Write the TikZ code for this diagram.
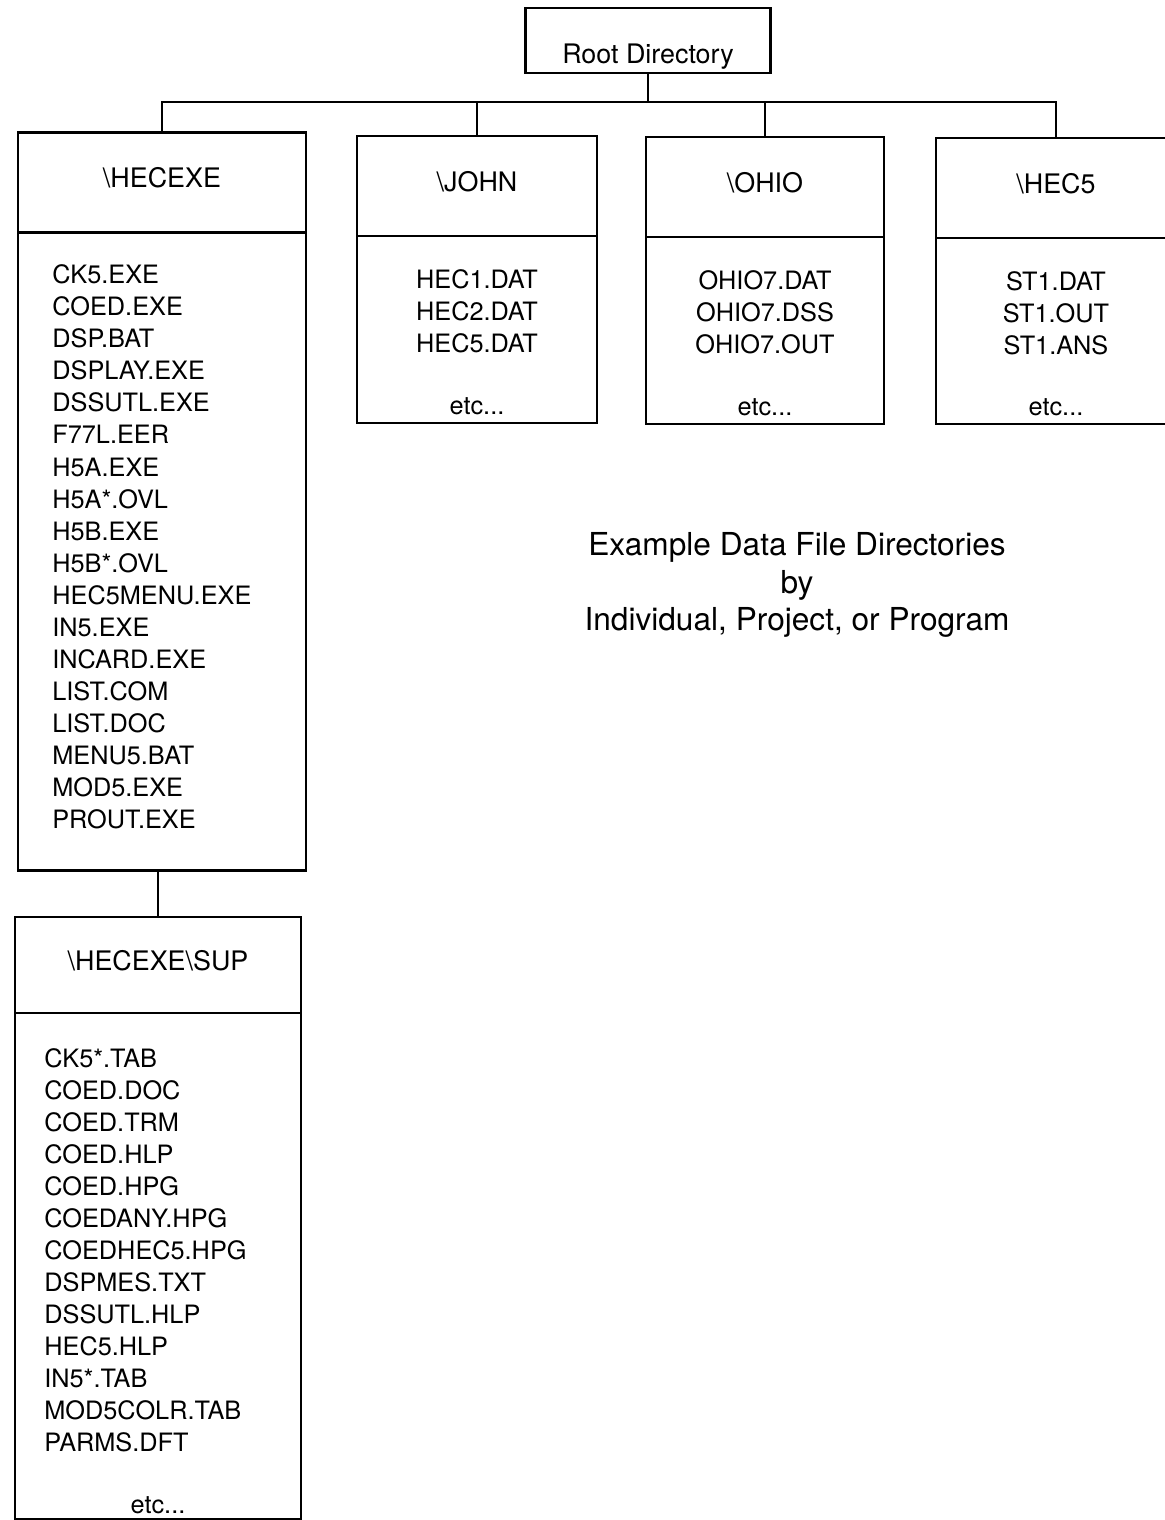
\documentclass[tikz,border=0pt]{standalone}
\usepackage{fontspec}
\setmainfont{TeX Gyre Heros}
\usepackage{tikz}
\usetikzlibrary{positioning,calc}
\tikzset{
    dirhead/.style={draw, line width=1.3pt, outer sep=0pt,
                    minimum width=#1, minimum height=2cm,
                    text height=0.39cm, text depth=0.18cm,
                    font=\fontsize{15.3}{18}\selectfont},
    dirlist/.style 2 args={draw, line width=1.3pt, outer sep=0pt,
                    minimum width=#1, minimum height=#2},
    files/.style={inner sep=0pt, align=#1,
                  font=\fontsize{14.4}{18.24}\selectfont},
    link/.style={line width=1.3pt},
}
\begin{document}
\begin{tikzpicture}[x=0.02cm, y=-0.02cm]
    \clip (0,0) rectangle (1165,1520);
    \node[dirhead=4.9cm, minimum height=1.3cm] (root) at (648,40.5) {};
    \node[anchor=base, font=\fontsize{15.3}{18}\selectfont] (rootname) at (648,63.5) {Root Directory};

    \node[dirhead=5.76cm] (hecexe) at (162,182.5) {\textbackslash HECEXE};
    \node[dirhead=4.8cm] (john) at (477,186) {\textbackslash JOHN};
    \node[dirhead=4.76cm] (ohio) at (765,187) {\textbackslash OHIO};
    \node[dirhead=4.8cm] (hec5) at (1056,188) {\textbackslash HEC5};

    \node[dirlist={5.76cm}{12.76cm}, below=0pt of hecexe] (hecexeList) {};
    \node[dirlist={4.8cm}{3.74cm}, below=0pt of john] (johnList) {};
    \node[dirlist={4.76cm}{3.74cm}, below=0pt of ohio] (ohioList) {};
    \node[dirlist={4.8cm}{3.72cm}, below=0pt of hec5] (hec5List) {};

    \node[dirhead=5.72cm, minimum height=1.92cm] (sup) at (158,965) {\textbackslash HECEXE\textbackslash SUP};
    \node[dirlist={5.72cm}{10.12cm}, below=0pt of sup] (supList) {};

    \node[files=left, below right=0.64cm and 0.68cm of hecexeList.north west] (hecexeFiles)
        {CK5.EXE\\COED.EXE\\DSP.BAT\\DSPLAY.EXE\\DSSUTL.EXE\\F77L.EER\\H5A.EXE\\H5A*.OVL\\H5B.EXE\\
         H5B*.OVL\\HEC5MENU.EXE\\IN5.EXE\\INCARD.EXE\\LIST.COM\\LIST.DOC\\MENU5.BAT\\MOD5.EXE\\PROUT.EXE};
    \node[files=left, below right=0.7cm and 0.58cm of supList.north west] (supFiles)
        {CK5*.TAB\\COED.DOC\\COED.TRM\\COED.HLP\\COED.HPG\\COEDANY.HPG\\COEDHEC5.HPG\\
         DSPMES.TXT\\DSSUTL.HLP\\HEC5.HLP\\IN5*.TAB\\MOD5COLR.TAB\\PARMS.DFT};
    \node[files=center, above=0.1cm of supList.south] (supEtc) {etc...};

    \node[files=center, below=0.66cm of johnList.north] (johnFiles) {HEC1.DAT\\HEC2.DAT\\HEC5.DAT};
    \node[files=center, above=0.16cm of johnList.south] (johnEtc) {etc...};
    \node[files=center, below=0.66cm of ohioList.north] (ohioFiles) {OHIO7.DAT\\OHIO7.DSS\\OHIO7.OUT};
    \node[files=center, above=0.16cm of ohioList.south] (ohioEtc) {etc...};
    \node[files=center, below=0.66cm of hec5List.north] (hec5Files) {ST1.DAT\\ST1.OUT\\ST1.ANS};
    \node[files=center, above=0.16cm of hec5List.south] (hec5Etc) {etc...};

    \node[align=center, font=\fontsize{18}{21.3}\selectfont] (caption) at (797,585)
        {Example Data File Directories\\by\\Individual, Project, or Program};

    \draw[link] (root.south) -- ++(0,29) coordinate (bus);
    \draw[link] (hecexe.north) |- (bus) -| (hec5.north);
    \draw[link] (john.north) -- (john.north |- bus);
    \draw[link] (ohio.north) -- (ohio.north |- bus);
    \draw[link] (sup.north) -- (sup.north |- hecexeList.south);
\end{tikzpicture}
\end{document}
